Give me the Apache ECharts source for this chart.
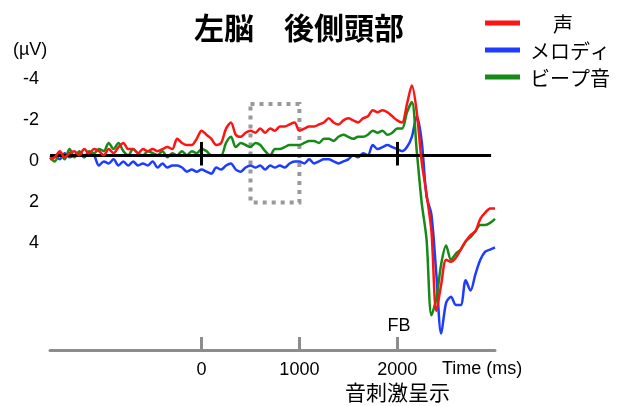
<!DOCTYPE html>
<html>
<head>
<meta charset="utf-8">
<script src="https://cdn.jsdelivr.net/npm/echarts@6/dist/echarts.min.js"></script>
<style>html,body{margin:0;padding:0;background:#fff}#c{width:619px;height:406px}</style>
</head>
<body>
<div id="c"></div>
<script>
// ---- data (time in ms, amplitude in µV; negative plotted upward) ----
var times = [-1550,-1500,-1450,-1400,-1350,-1300,-1250,-1200,-1150,-1100,-1050,-1000,-950,-900,-850,-800,-750,-700,-650,-600,-550,-500,-450,-400,-350,-300,-250,-200,-150,-100,-50,
  0,50,100,150,200,250,300,350,400,450,500,550,600,650,700,750,800,850,900,950,1000,1050,1100,1150,1200,1250,1300,1350,1400,1450,1500,1550,1600,1650,1700,1750,1800,1850,1900,1950,
  2000,2050,2100,2150,2200,2250,2300,2350,2400,2450,2500,2550,2600,2650,2700,2750,2800,2850,2900,2950,3000];
var voice = [0.2,0.1,-0.2,0.1,-0.1,-0.2,0.0,-0.3,-0.1,-0.3,-0.2,0.0,-0.3,-0.1,-0.4,-0.6,-0.3,-0.3,-0.1,-0.3,-0.2,-0.3,-0.2,-0.3,-0.4,-0.3,-0.8,-0.6,-0.5,-0.5,-0.8,
  -1.2,-1.0,-0.8,-0.5,-0.6,-1.3,-1.6,-1.0,-0.9,-1.1,-1.2,-1.1,-1.3,-1.1,-1.3,-1.2,-1.4,-1.4,-1.5,-1.6,-1.2,-1.3,-1.4,-1.4,-1.5,-1.6,-1.8,-1.6,-1.5,-1.7,-1.8,-1.7,-1.6,-1.8,-1.9,-2.2,-2.1,-2.2,-2.1,-1.9,
  -1.7,-1.6,-2.5,-3.4,-2.1,0.3,1.9,3.7,7.6,6.3,5.1,5.2,5.0,4.6,4.2,3.9,3.7,3.1,2.8,2.6,2.6];
var melody = [0.1,0.0,0.2,-0.1,0.1,0.0,-0.1,0.1,-0.1,0.0,0.5,0.3,0.4,0.2,0.5,0.3,0.5,0.3,0.5,0.4,0.5,0.3,0.6,0.4,0.6,0.5,0.5,0.6,0.8,0.7,0.8,
  0.7,0.8,0.9,0.6,0.7,0.5,0.4,0.7,0.8,0.6,0.5,0.6,0.5,0.7,0.5,0.6,0.5,0.6,0.4,0.3,0.3,0.4,0.2,0.4,0.3,0.2,0.2,0.3,0.4,0.3,0.2,0.0,0.1,-0.1,0.0,-0.5,-0.3,-0.4,-0.5,-0.4,
  -0.3,-0.2,-0.4,-0.9,-1.9,-0.7,2.0,2.9,5.8,8.7,7.2,6.9,7.3,7.3,6.1,6.6,5.8,5.1,4.7,4.6,4.5];
var beep = [0.1,0.3,-0.1,0.2,-0.3,0.1,-0.2,0.1,-0.2,-0.1,-0.3,-0.2,-0.6,-0.3,-0.6,-0.2,0.0,-0.3,-0.1,0.0,-0.2,-0.1,0.0,-0.2,0.1,-0.1,0.0,-0.2,0.0,-0.2,-0.1,
  -0.3,-0.2,0.0,0.0,0.0,-0.6,-0.9,-0.4,-0.6,-0.5,-0.4,-0.6,-0.5,-0.2,0.0,-0.3,-0.3,-0.4,-0.5,-0.5,-0.5,-0.6,-0.7,-0.7,-0.6,-0.8,-0.8,-0.7,-0.9,-1.0,-0.9,-0.8,-0.9,-0.9,-1.0,-1.2,-1.1,-1.2,-1.0,-1.1,
  -1.3,-1.3,-2.1,-2.6,-0.2,2.3,4.1,7.8,7.0,5.3,4.4,5.1,4.8,4.6,4.2,4.0,3.7,3.4,3.4,3.3,3.1];
var seriesNames = ['声','メロディ','ビープ音'];
var xTicks = [0,1000,2000];
var yTicks = [-4,-2,0,2,4];
var boxRange = [[500,-2.5],[1000,2.3]];

function pairs(v){ return times.map(function(t,i){ return [t, v[i]]; }); }

var colors = ['#ff1414','#1e3cff','#168a16'];
var latin = '"Liberation Sans", Arial, sans-serif';
var cjk = '"Noto Sans CJK JP", sans-serif';

var chart = echarts.init(document.getElementById('c'), null, {renderer:'canvas'});
var lineBase = {type:'line', showSymbol:false, smooth:0.3, animation:false, z:3};

chart.setOption({
  animation:false,
  backgroundColor:'#fff',
  grid:{left:50, right:124, top:52.75, bottom:56},
  xAxis:{type:'value', min:-1550, max:3000,
    axisLine:{show:true, onZero:false, lineStyle:{color:'#8c8c8c', width:3}},
    axisTick:{show:true, inside:true, length:13, customValues:xTicks, lineStyle:{color:'#8c8c8c', width:3}},
    axisLabel:{customValues:xTicks, color:'#000', fontSize:18, fontFamily:latin, margin:11,
      formatter:function(v){ return String(v); }},
    splitLine:{show:false}},
  yAxis:{type:'value', inverse:true, min:-5, max:9.5,
    axisLine:{show:false}, axisTick:{show:false}, splitLine:{show:false},
    axisLabel:{customValues:yTicks, color:'#000', fontSize:18, fontFamily:latin, margin:11,
      verticalAlign:'top', lineHeight:12, formatter:function(v){ return String(v); }}},
  series:[
    Object.assign({}, lineBase, {name:seriesNames[0], data:pairs(voice), lineStyle:{color:colors[0], width:2.5}, itemStyle:{color:colors[0]}, z:5}),
    Object.assign({}, lineBase, {name:seriesNames[1], data:pairs(melody), lineStyle:{color:colors[1], width:2.5}, itemStyle:{color:colors[1]}, z:3}),
    Object.assign({}, lineBase, {name:seriesNames[2], data:pairs(beep), lineStyle:{color:colors[2], width:2.5}, itemStyle:{color:colors[2]}, z:4,
      markLine:{silent:true, symbol:'none', animation:false, label:{show:false},
        lineStyle:{color:'#000', width:3, type:'solid'},
        data:[
          [{coord:[-1550,0]},{coord:[2960,0]}],
          [{coord:[0,-0.65]},{coord:[0,0.5]}],
          [{coord:[2000,-0.65]},{coord:[2000,0.5]}]
        ]},
      markArea:{silent:true, label:{show:false},
        itemStyle:{color:'rgba(0,0,0,0)', borderColor:'#999', borderWidth:4, borderType:[4,5]},
        data:[[{coord:boxRange[0]},{coord:boxRange[1]}]]}
    })
  ],
  graphic:[
    {type:'text', x:299, y:28, style:{text:'左脳　後側頭部', font:'bold 30px '+cjk, fill:'#000', align:'center', verticalAlign:'middle'}},
    {type:'text', x:13, y:50, style:{text:'(µV)', font:'18px '+latin, fill:'#000', align:'left', verticalAlign:'middle'}},
    {type:'line', shape:{x1:485,y1:23,x2:520,y2:23}, style:{stroke:colors[0], lineWidth:5}},
    {type:'line', shape:{x1:485,y1:50,x2:520,y2:50}, style:{stroke:colors[1], lineWidth:5}},
    {type:'line', shape:{x1:485,y1:77,x2:520,y2:77}, style:{stroke:colors[2], lineWidth:5}},
    {type:'text', x:553, y:24, style:{text:seriesNames[0], font:'20px '+cjk, fill:'#000', align:'left', verticalAlign:'middle'}},
    {type:'text', x:530, y:51, style:{text:seriesNames[1], font:'20px '+cjk, fill:'#000', align:'left', verticalAlign:'middle'}},
    {type:'text', x:530, y:78, style:{text:seriesNames[2], font:'20px '+cjk, fill:'#000', align:'left', verticalAlign:'middle'}},
    {type:'text', x:399, y:326, style:{text:'FB', font:'18px '+latin, fill:'#000', align:'center', verticalAlign:'middle'}},
    {type:'text', x:442, y:369, style:{text:'Time (ms)', font:'18px '+latin, fill:'#000', align:'left', verticalAlign:'middle'}},
    {type:'text', x:345, y:392, style:{text:'音刺激呈示', font:'21px '+cjk, fill:'#000', align:'left', verticalAlign:'middle'}}
  ]
});
</script>
</body>
</html>
